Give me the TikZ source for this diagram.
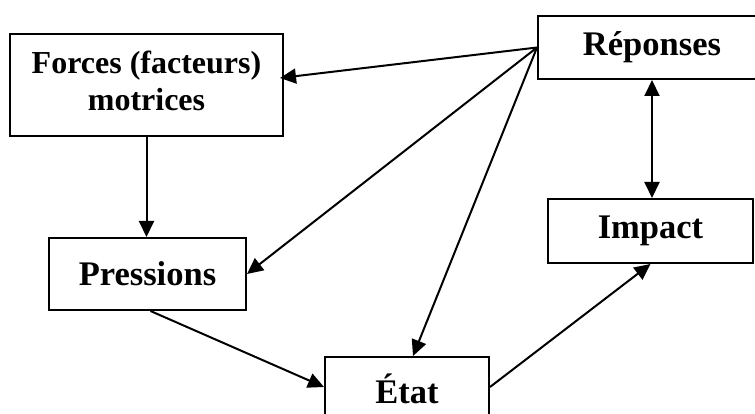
\documentclass[tikz,border=0pt]{standalone}
\usepackage{fontspec}
\setmainfont{Liberation Serif}
\usetikzlibrary{arrows.meta,calc}
\begin{document}
\begin{tikzpicture}[x=1pt,y=-1pt,
  box/.style={draw,line width=2pt,rectangle,inner sep=0pt,align=center,
    font=\fontsize{34.5}{38}\selectfont\bfseries},
  conn/.style={line width=2pt,-{Triangle[length=16pt,width=15pt]}},
  dconn/.style={line width=2pt,{Triangle[length=16pt,width=15pt]}-{Triangle[length=16pt,width=15pt]}}]
\useasboundingbox (0,0) rectangle (755,414);
\clip (0,0) rectangle (755,414);
\node[box,minimum width=273pt,minimum height=102pt,font=\fontsize{32}{37}\selectfont\bfseries] (F) at (146.5,85)
  {\raisebox{-7pt}{\begin{tabular}{@{}c@{}}Forces (facteurs)\\motrices\end{tabular}}};
\node[box,minimum width=228pt,minimum height=63pt] (R) at (652,47.5) {\raisebox{-2pt}{Réponses}};
\node[box,minimum width=205pt,minimum height=64pt] (I) at (650.5,231) {\raisebox{-2pt}{Impact}};
\node[box,minimum width=197pt,minimum height=72pt] (P) at (147.5,274) {Pressions};
\node[box,minimum width=164pt,minimum height=64pt] (E) at (407,389) {État};
\draw[conn] (F.south) -- (F.south |- P.north);
\draw[dconn] (R.south) -- (R.south |- I.north);
\draw[conn] (R.west) -- ($(F.east)+(-4,-7)$);
\draw[conn] (R.west) -- (P.east);
\draw[conn] (R.west) -- ($(E.north)+(6,0)$);
\draw[conn] ($(P.south)+(3,0)$) -- ($(E.west)+(0,-2)$);
\draw[conn] ($(E.east)+(0,-2)$) -- (I.south);
\end{tikzpicture}
\end{document}
